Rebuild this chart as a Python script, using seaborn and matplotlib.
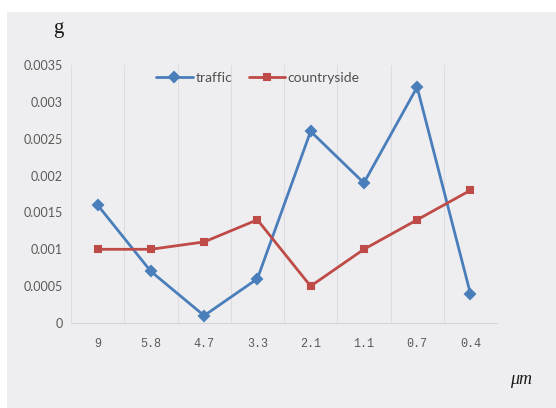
import matplotlib
matplotlib.use("Agg")
import matplotlib.pyplot as plt
from matplotlib.patches import Rectangle
import seaborn as sns
import pandas as pd

# particle size classes (µm) and collected mass (g)
sizes = ["9", "5.8", "4.7", "3.3", "2.1", "1.1", "0.7", "0.4"]
traffic = [0.0016, 0.0007, 0.0001, 0.0006, 0.0026, 0.0019, 0.0032, 0.0004]
countryside = [0.0010, 0.0010, 0.0011, 0.0014, 0.0005, 0.0010, 0.0014, 0.0018]
y_ticks = [0, 0.0005, 0.001, 0.0015, 0.002, 0.0025, 0.003, 0.0035]
y_tick_labels = ["0", "0.0005", "0.001", "0.0015", "0.002", "0.0025", "0.003", "0.0035"]

df = pd.DataFrame({
    "size": sizes * 2,
    "mass": traffic + countryside,
    "series": ["traffic"] * len(sizes) + ["countryside"] * len(sizes),
})

sns.set_theme(style="white")
plt.rcParams["font.family"] = ["Lato", "DejaVu Sans"]

W, H = 556, 408
fig = plt.figure(figsize=(W / 100, H / 100), dpi=100, facecolor="white")

# chart-area background panel, kept behind everything else
fig.patches.append(Rectangle((7 / W, 0), 1 - 7 / W, 1 - 12 / H,
                             transform=fig.transFigure, facecolor="#eeeef0",
                             edgecolor="none", zorder=-10))

ax = fig.add_axes([71 / W, 85 / H, (497 - 71) / W, (323 - 65) / H])
ax.set_facecolor("none")

palette = {"traffic": "#4a7ebb", "countryside": "#be4b48"}
sns.pointplot(data=df, x="size", y="mass", hue="series", order=sizes,
              hue_order=["traffic", "countryside"], palette=palette,
              markers=["D", "s"], linestyles=["-", "-"], errorbar=None,
              markersize=5, linewidth=2, ax=ax)

ax.set_xlim(-0.5, len(sizes) - 0.5)
ax.set_ylim(0, 0.0035)
ax.set_yticks(y_ticks)
ax.set_yticklabels(y_tick_labels)
ax.set_xlabel("")
ax.set_ylabel("")

# vertical gridlines on category boundaries
for b in range(len(sizes) + 1):
    ax.axvline(b - 0.5, color="#dcdce2", linewidth=0.8, zorder=0)
for s in ["top", "right", "left"]:
    ax.spines[s].set_visible(False)
ax.spines["bottom"].set_color("#d4d4da")
ax.spines["bottom"].set_linewidth(0.8)

ax.tick_params(axis="y", length=0, pad=6, labelsize=9, labelcolor="#595959")
ax.tick_params(axis="x", length=0, pad=11, labelsize=8.5, labelcolor="#595959")
for lab in ax.get_xticklabels():
    lab.set_fontfamily(["Liberation Mono", "DejaVu Sans Mono"])

leg = ax.legend(loc="center", bbox_to_anchor=(258 / W, 1 - 78 / H),
                bbox_transform=fig.transFigure, ncol=2, frameon=False,
                fontsize=10, handlelength=2.6, handletextpad=0.2,
                columnspacing=1.2, labelcolor="#505050")

fig.text(58 / W, 1 - 29 / H, "g", family="Liberation Serif", fontsize=15,
         color="#1a1a1a", ha="center", va="center")
fig.text(521 / W, 1 - 380 / H, "μm", family="Liberation Serif", style="italic",
         fontsize=13, color="#1a1a1a", ha="center", va="center")

fig.savefig("out.png", dpi=100, facecolor="white")
